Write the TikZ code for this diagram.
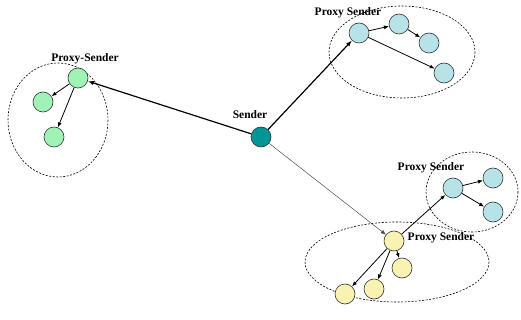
\documentclass[tikz,border=0pt]{standalone}
\usepackage{fontspec}
\setmainfont{Liberation Serif}
\usetikzlibrary{arrows.meta}
\definecolor{pgreen}{RGB}{160,242,182}
\definecolor{pblue}{RGB}{182,226,232}
\definecolor{pyellow}{RGB}{250,242,178}
\definecolor{pteal}{RGB}{0,150,150}
\begin{document}
\begin{tikzpicture}[x=1pt,y=-1pt,
  nd/.style={circle,draw=black!80,line width=0.6pt,minimum size=20pt,inner sep=0pt},
  grp/.style={draw,line width=0.6pt,dash pattern=on 2pt off 1.5pt},
  lbl/.style={font=\bfseries\fontsize{11.5}{13}\selectfont,inner sep=0pt},
  arr/.style={-{Latex[length=5pt,width=4pt]},line width=0.8pt},
  thk/.style={-{Latex[length=6pt,width=4.5pt]},line width=1.2pt}]
\useasboundingbox (0,0) rectangle (521,320);
\fill[white] (0,0) rectangle (521,320);
% groups
\draw[grp] (58,120) ellipse [x radius=50, y radius=57];
\draw[grp] (402,52) ellipse [x radius=73, y radius=46];
\draw[grp] (472,192) ellipse [x radius=46, y radius=40];
\draw[grp] (397,262) ellipse [x radius=92, y radius=40];
% nodes
\node[nd,fill=pteal] (s) at (261,137) {};
\node[nd,fill=pgreen] (g0) at (78,78) {};
\node[nd,fill=pgreen] (g1) at (43,102) {};
\node[nd,fill=pgreen] (g2) at (54,137) {};
\node[nd,fill=pblue] (b0) at (359,33) {};
\node[nd,fill=pblue] (b1) at (399,24) {};
\node[nd,fill=pblue] (b2) at (429,43) {};
\node[nd,fill=pblue] (b3) at (444,73) {};
\node[nd,fill=pblue] (c0) at (453,188) {};
\node[nd,fill=pblue] (c1) at (493,178) {};
\node[nd,fill=pblue] (c2) at (493,212) {};
\node[nd,fill=pyellow] (y0) at (394,241) {};
\node[nd,fill=pyellow] (y1) at (402,268) {};
\node[nd,fill=pyellow] (y2) at (374,289) {};
\node[nd,fill=pyellow] (y3) at (345,294) {};
% labels
\node[lbl] (ls) at (250,115) {Sender};
\node[lbl] (lg) at (85,59) {Proxy-Sender};
\node[lbl] (lb) at (348,13) {Proxy Sender};
\node[lbl] (lc) at (431,168) {Proxy Sender};
\node[lbl] (ly) at (441,238) {Proxy Sender};
% connectors
\draw[thk] (s) -- (g0);
\draw[thk] (s) -- (b0);
\draw[arr,line width=0.5pt,black!70] (s) -- (y0);
\draw[arr] (y0) -- (c0);
\draw[arr] (g0) -- (g1);
\draw[arr] (g0) -- (g2);
\draw[arr] (b0) -- (b1);
\draw[arr] (b0) -- (b3);
\draw[arr] (b1) -- (b2);
\draw[arr] (c0) -- (c1);
\draw[arr] (c0) -- (c2);
\draw[arr] (y0) -- (y1);
\draw[arr] (y0) -- (y2);
\draw[arr] (y0) -- (y3);
\end{tikzpicture}
\end{document}
